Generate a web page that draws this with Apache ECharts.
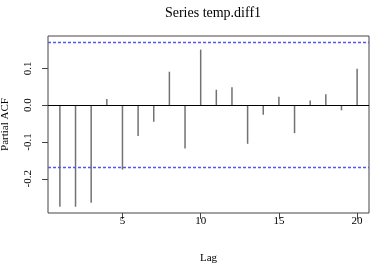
<!DOCTYPE html>
<html>
<head>
<meta charset="utf-8">
<script src="https://cdn.jsdelivr.net/npm/echarts@6/dist/echarts.min.js"></script>
<style>
  html, body { margin: 0; padding: 0; background: #fff; }
  #chart { width: 373px; height: 263px; }
</style>
</head>
<body>
<div id="chart"></div>
<script>
// partial autocorrelation by lag
var lags = [1, 2, 3, 4, 5, 6, 7, 8, 9, 10, 11, 12, 13, 14, 15, 16, 17, 18, 19, 20]
var pacf = [-0.276, -0.276, -0.265, 0.017, -0.175, -0.084, -0.045, 0.091, -0.118, 0.151,
  0.042, 0.049, -0.105, -0.026, 0.023, -0.076, 0.013, 0.030, -0.014, 0.099]
var ciBound = 0.17
var xTicks = [5, 10, 15, 20]
var yTicks = [-0.2, -0.1, 0.0, 0.1]

var serif = 'Liberation Serif'
var chart = echarts.init(document.getElementById('chart'))
chart.setOption({
  animation: false,
  textStyle: { fontFamily: serif },
  title: {
    text: 'Series temp.diff1',
    left: 208,
    top: 1,
    textAlign: 'center',
    textStyle: { fontFamily: serif, fontSize: 14, fontWeight: 'normal', color: '#000' }
  },
  grid: {
    left: 48, right: 4, top: 36, bottom: 50,
    containLabel: false,
    outerBoundsMode: 'none',
    show: true, borderColor: '#444', borderWidth: 1, backgroundColor: 'transparent'
  },
  xAxis: {
    type: 'value',
    min: 0.24,
    max: 20.76,
    name: 'Lag',
    nameLocation: 'middle',
    nameGap: 40,
    nameTextStyle: { fontFamily: serif, fontSize: 11, color: '#000' },
    splitLine: { show: false },
    axisLine: { show: false, onZero: false },
    axisTick: { show: true, length: 6, customValues: xTicks, lineStyle: { color: '#444' } },
    axisLabel: { customValues: xTicks, fontFamily: serif, fontSize: 11, color: '#000', margin: 3 }
  },
  yAxis: {
    type: 'value',
    min: -0.293,
    max: 0.188,
    name: 'Partial ACF',
    nameLocation: 'middle',
    nameGap: 37,
    nameTextStyle: { fontFamily: serif, fontSize: 11, color: '#000' },
    splitLine: { show: false },
    axisLine: { show: false, onZero: false },
    axisTick: { show: true, length: 6, customValues: yTicks, lineStyle: { color: '#444' } },
    axisLabel: {
      customValues: yTicks,
      rotate: 90,
      margin: 14,
      fontFamily: serif, fontSize: 11, color: '#000',
      formatter: function (v) { return v.toFixed(1) }
    }
  },
  series: [
    {
      type: 'bar',
      barWidth: 1.5,
      data: lags.map(function (l, i) { return [l, pacf[i]] }),
      itemStyle: { color: '#727272' },
      markLine: {
        silent: true,
        symbol: 'none',
        label: { show: false },
        data: [
          { yAxis: 0, lineStyle: { color: '#000', width: 1, type: 'solid' } },
          { yAxis: ciBound, lineStyle: { color: '#5555f2', width: 1.3, type: [3, 2] } },
          { yAxis: -ciBound, lineStyle: { color: '#5555f2', width: 1.3, type: [3, 2] } }
        ]
      }
    }
  ]
})
</script>
</body>
</html>
